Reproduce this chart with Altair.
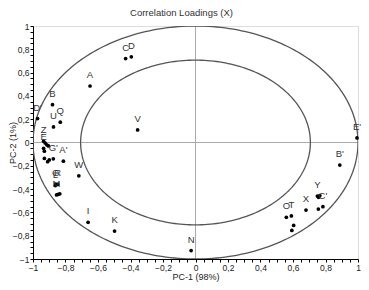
import altair as alt
import numpy as np
import pandas as pd

# ---- data ----
names = ["C", "D", "A", "V", "B", "D'", "U", "Q", "Z", "E", "", "", "", "",
         "G'", "", "", "", "A'", "W", "G", "R", "L", "M", "", "",
         "I", "K", "N", "O", "T", "", "", "X", "Y", "", "", "", "C'",
         "B'", "E'"]
pc1 = [-0.43, -0.395, -0.649, -0.356, -0.88, -0.972, -0.874, -0.832, -0.935, -0.935,
       -0.925, -0.915, -0.905, -0.93,
       -0.875, -0.93, -0.9, -0.91, -0.813, -0.718, -0.86, -0.848, -0.862, -0.855,
       -0.835, -0.845,
       -0.661, -0.498, -0.027, 0.559, 0.59, 0.604, 0.593, 0.68, 0.75, 0.765,
       0.757, 0.756, 0.784, 0.888, 0.994]
pc2 = [0.72, 0.735, 0.485, 0.108, 0.325, 0.205, 0.134, 0.174, 0.01, -0.05,
       -0.005, -0.02, -0.03, -0.075,
       -0.14, -0.137, -0.15, -0.165, -0.16, -0.286, -0.357, -0.36, -0.37, -0.45,
       -0.44, -0.445,
       -0.685, -0.76, -0.928, -0.642, -0.63, -0.712, -0.755, -0.58, -0.46, -0.455,
       -0.47, -0.571, -0.551, -0.194, 0.039]

radii = [1.0, 0.707]          # explained-variance circles (100 % and 50 %)
ticks = [round(-1 + 0.05 * i, 2) for i in range(41)]

pts = pd.DataFrame({"name": names, "x": pc1, "y": pc2})

theta = np.linspace(0, 2 * np.pi, 241)
circ = pd.concat([
    pd.DataFrame({"x": r * np.cos(theta), "y": r * np.sin(theta),
                  "o": np.arange(len(theta)), "r": str(r)})
    for r in radii
])

cross = pd.DataFrame({"x": [0, -1], "x2": [0, 1], "y": [-1, 0], "y2": [1, 0]})

lbl = ("datum.value == 0 ? '0' : (round(datum.value*20) % 4 == 0 ? "
       "replace(format(datum.value, '.1~f'), '.', ',') : '')")

xs = alt.Scale(domain=[-1, 1], nice=False, zero=False)
ys = alt.Scale(domain=[-1, 1], nice=False, zero=False)
common = dict(values=ticks, labelExpr=lbl, grid=False, labelOverlap=False,
              labelFlush=False)
xax = alt.Axis(title="PC-1 (98%)", titlePadding=1, **common)
yax = alt.Axis(title="PC-2 (1%)", titleX=-16, titleY=116.5, **common)

rules = alt.Chart(cross).mark_rule(color="#aaaaaa", strokeWidth=1).encode(
    x=alt.X("x:Q", scale=xs, axis=xax), x2="x2:Q",
    y=alt.Y("y:Q", scale=ys, axis=yax), y2="y2:Q")

circles = alt.Chart(circ).mark_line(color="#555555", strokeWidth=1.3, clip=True).encode(
    x=alt.X("x:Q", scale=xs, axis=xax), y=alt.Y("y:Q", scale=ys, axis=yax),
    detail="r:N", order="o:Q")

dots = alt.Chart(pts).mark_circle(color="black", size=14, opacity=1).encode(
    x=alt.X("x:Q", scale=xs, axis=xax), y=alt.Y("y:Q", scale=ys, axis=yax))

labels = alt.Chart(pts).mark_text(dy=-11, fontSize=9.5, color="#333333",
                                  font="Liberation Sans").encode(
    x=alt.X("x:Q", scale=xs, axis=xax), y=alt.Y("y:Q", scale=ys, axis=yax),
    text="name:N")

chart = alt.layer(rules, circles, dots, labels).properties(
    width=325, height=233,
    title=alt.TitleParams("Correlation Loadings (X)", fontSize=9.5,
                          fontWeight="normal", color="#333", dx=-14, offset=5),
    autosize=alt.AutoSizeParams(type="none"),
    padding={"left": 25, "top": 18, "right": 3, "bottom": 24},
).configure_view(stroke=None).configure(font="Liberation Sans").configure_axis(
    labelOverlap=False, domainColor="black", tickColor="black", tickSize=3,
    labelFontSize=8.5, titleFontSize=9, titleFontWeight="normal",
    labelColor="#222", titleColor="#222", labelPadding=1)

chart.save("out.html", embed_options={"renderer": "svg", "actions": False})
